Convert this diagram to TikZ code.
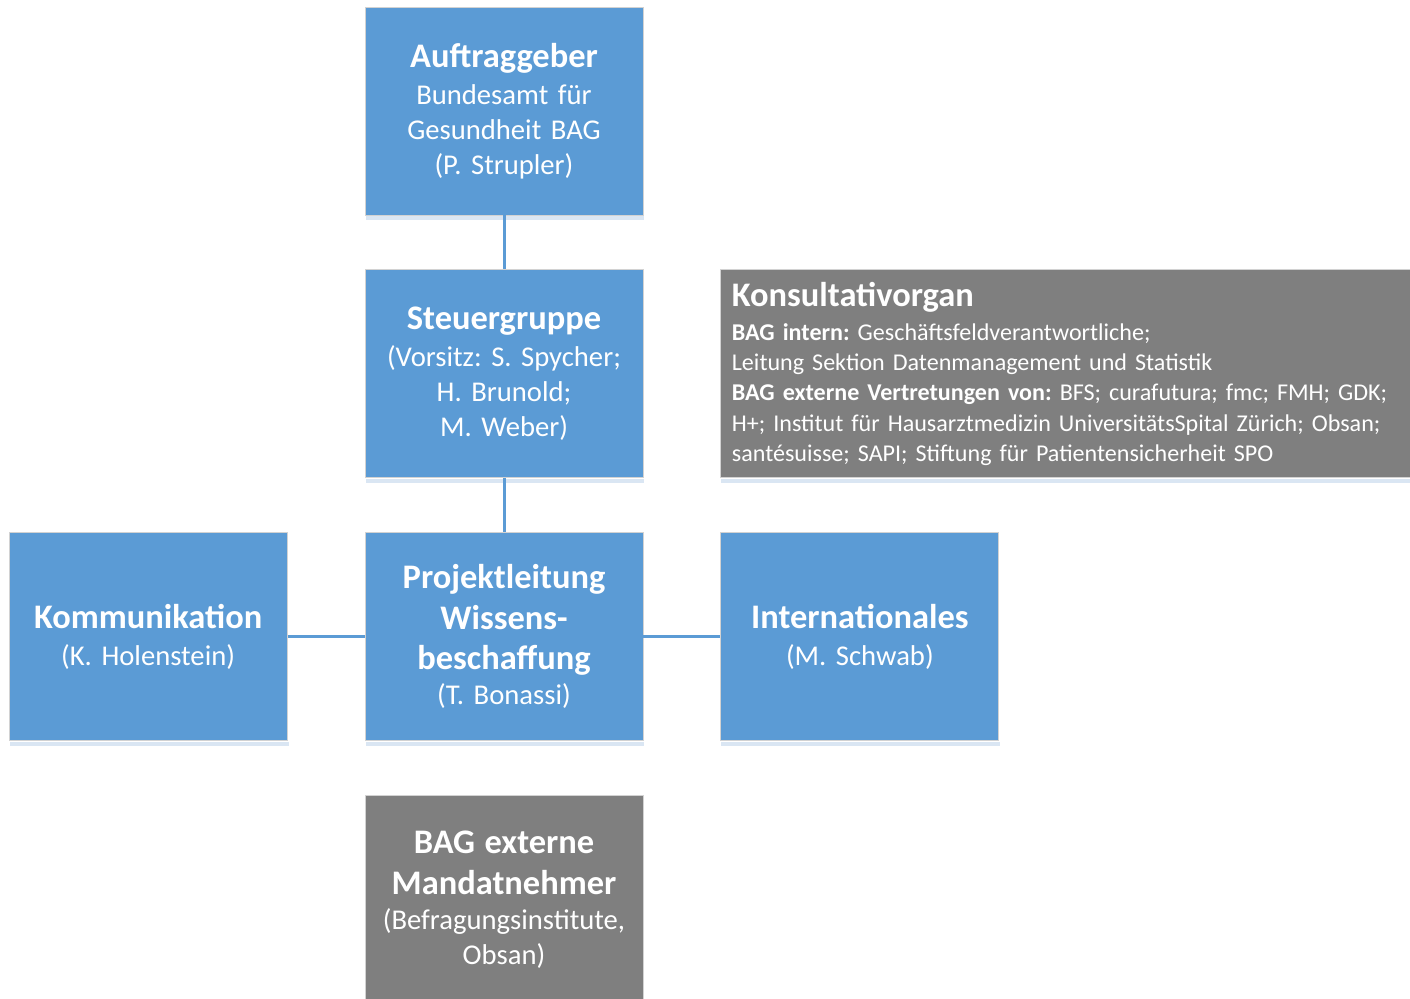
\documentclass[tikz,border=0pt]{standalone}
\usepackage{fontspec}
\setmainfont{Carlito}
\usetikzlibrary{positioning,calc}
\frenchspacing
\definecolor{boxblue}{HTML}{5B9BD5}
\definecolor{boxgray}{HTML}{7F7F7F}
\definecolor{stripblue}{HTML}{DAE6F3}
\newcommand{\titlefont}{\fontsize{19.6}{23}\selectfont\bfseries}
\newcommand{\bodyfont}{\fontsize{16.3}{19.9}\selectfont}
\newcommand{\smallfont}{\fontsize{13.7}{17.3}\selectfont}
\newcommand{\boxtitle}[1]{{\titlefont #1\par}\vspace{1.2pt}}
\tikzset{
  orgbox/.style={draw=gray!35, line width=0.5pt, fill=boxblue, text=white,
    minimum width=5.56cm, minimum height=4.16cm, text width=5.3cm,
    align=center, inner sep=0pt, font=\bodyfont},
  greybox/.style={orgbox, fill=boxgray},
  link/.style={draw=boxblue, line width=1.7pt},
  strip/.style={fill=stripblue}
}

\begin{document}
\begin{tikzpicture}
    \useasboundingbox (0,0) rectangle (28.2,-19.98);
    \def\gapy{1.08cm}
    \def\gapx{1.54cm}
    \node [orgbox] (auftrag) at (10.08,-2.22)
      {\boxtitle{Auftraggeber}Bundesamt für\\Gesundheit BAG\\(P. Strupler)};
    \node [orgbox, below=\gapy of auftrag] (steuer)
      {\boxtitle{Steuergruppe}(Vorsitz: S. Spycher;\\H. Brunold;\\M. Weber)};
    \node [orgbox, below=\gapy of steuer] (leitung)
      {{\titlefont Projektleitung\\Wissens-\\beschaffung\par}(T. Bonassi)};
    \node [orgbox, left=\gapx of leitung] (komm)
      {\boxtitle{Kommunikation}(K. Holenstein)};
    \node [orgbox, right=\gapx of leitung] (intl)
      {\boxtitle{Internationales}(M. Schwab)};
    \node [greybox, below=\gapy of leitung] (mandat)
      {{\titlefont BAG externe\\Mandatnehmer\par}(Befragungsinstitute,\\Obsan)};
    \node [greybox, right=\gapx of steuer, minimum width=13.8cm, text width=13.36cm,
      align=left, font=\smallfont] (konsult)
      {{\titlefont Konsultativorgan\par}\vspace{2pt}\textbf{BAG intern:} Geschäftsfeldverantwortliche;\\
       Leitung Sektion Datenmanagement und Statistik\\
       \textbf{BAG externe Vertretungen von:} BFS; curafutura; fmc; FMH; GDK;\\
       H+; Institut für Hausarztmedizin UniversitätsSpital Zürich; Obsan;\\
       santésuisse; SAPI; Stiftung für Patientensicherheit SPO};
    \foreach \n in {auftrag,steuer,leitung,komm,intl,konsult}
      \fill [strip] ($(\n.south west)+(0.02,-0.01)$) rectangle ($(\n.south east)+(0.02,-0.1)$);
    \draw [link] (auftrag) -- (steuer);
    \draw [link] (steuer) -- (leitung);
    \draw [link] (komm) -- (leitung);
    \draw [link] (leitung) -- (intl);
\end{tikzpicture}
\end{document}
